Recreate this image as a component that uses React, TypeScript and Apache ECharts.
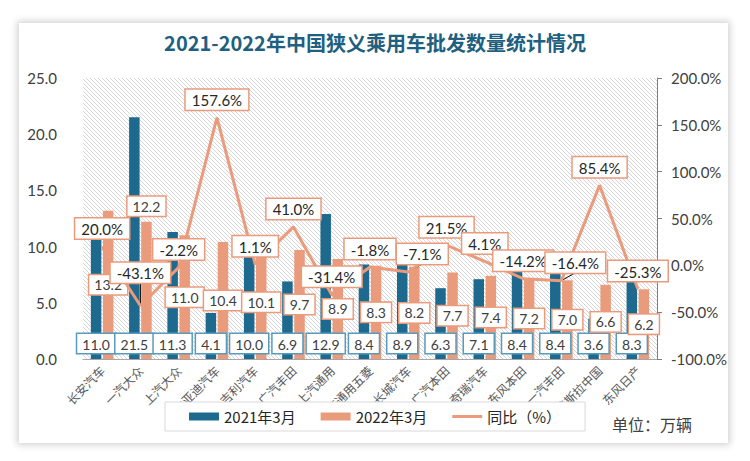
import React, { useEffect, useRef } from "react";
import * as echarts from "echarts";

const categories = ["长安汽车", "一汽大众", "上汽大众", "比亚迪汽车", "吉利汽车", "广汽丰田", "上汽通用", "上汽通用五菱", "长城汽车", "广汽本田", "奇瑞汽车", "东风本田", "一汽丰田", "特斯拉中国", "东风日产"];
const sales2021 = [11.0, 21.5, 11.3, 4.1, 10.0, 6.9, 12.9, 8.4, 8.9, 6.3, 7.1, 8.4, 8.4, 3.6, 8.3];
const sales2022 = [13.2, 12.2, 11.0, 10.4, 10.1, 9.7, 8.9, 8.3, 8.2, 7.7, 7.4, 7.2, 7.0, 6.6, 6.2];
const yoy = [20.0, -43.1, -2.2, 157.6, 1.1, 41.0, -31.4, -1.8, -7.1, 21.5, 4.1, -14.2, -16.4, 85.4, -25.3];
const seriesNames = ["2021年3月", "2022年3月", "同比（%）"];
const leftTicks = { min: 0, max: 25, interval: 5 };
const rightTicks = { min: -100, max: 200, interval: 50 };

const BLUE = "#1d6a8e";
const SALMON = "#ea9b7c";
const TXT = "#404040";
const NUM_FONT = "Lato";
const CJK_FONT = "Noto Sans CJK SC";
const LABEL_DIST = 8;

// label shifts for the ratio labels that were moved in the original (with leader lines)
const yoyShift: Record<number, [number, number]> = { 1: [0, -15], 8: [14, 0], 12: [14, 0] };
const leaderIdx = Object.keys(yoyShift).map(Number);
const top2022 = new Set([1]);

export default function App() {
  const ref = useRef<HTMLDivElement>(null);
  useEffect(() => {
    document.body.style.margin = "0";
    const chart = echarts.init(ref.current!, null, { renderer: "svg" });
    const c = document.createElement("canvas");
    c.width = 4;
    c.height = 4;
    const ctx = c.getContext("2d")!;
    ctx.fillStyle = "#ffffff";
    ctx.fillRect(0, 0, 4, 4);
    ctx.fillStyle = "#d6d6d6";
    for (let i = 0; i < 4; i++) ctx.fillRect(i, i, 1, 1);

    const option: any = {
      animation: false,
      title: {
        text: "2021-2022年中国狭义乘用车批发数量统计情况",
        left: "center",
        top: 27,
        textStyle: { fontSize: 20, color: "#1f5f80", fontFamily: CJK_FONT, fontWeight: "bold" },
      },
      legend: {
        left: 165,
        top: 402,
        padding: [7, 24, 7, 24],
        itemGap: 25,
        itemWidth: 30,
        itemHeight: 8,
        backgroundColor: "#ffffff",
        borderColor: "#d9d9d9",
        borderWidth: 1,
        textStyle: { fontSize: 15, color: "#262626", fontFamily: CJK_FONT },
        data: [
          { name: seriesNames[0], icon: "rect" },
          { name: seriesNames[1], icon: "rect" },
          { name: seriesNames[2], icon: "path://M0,0 L30,0 L30,3 L0,3 Z", itemStyle: { color: SALMON, opacity: 1 } },
        ],
      },
      grid: {
        left: 83,
        right: 93,
        top: 78,
        bottom: 102,
        show: true,
        borderWidth: 0,
        backgroundColor: { image: c, repeat: "repeat", imageWidth: 4, imageHeight: 4 },
      },
      xAxis: {
        type: "category",
        data: categories,
        axisTick: { show: false },
        axisLine: { lineStyle: { color: "#a6a6a6" } },
        axisLabel: { rotate: 45, fontSize: 12, color: "#595959", fontFamily: CJK_FONT, margin: 9, interval: 0 },
      },
      yAxis: [
        {
          type: "value",
          ...leftTicks,
          splitLine: { show: false },
          axisLine: { show: false },
          axisTick: { show: false },
          axisLabel: { formatter: (v: number) => v.toFixed(1), fontSize: 15, color: TXT, fontFamily: NUM_FONT, margin: 26 },
        },
        {
          type: "value",
          ...rightTicks,
          position: "right",
          splitLine: { show: false },
          axisLine: { show: true, lineStyle: { color: "#808080" } },
          axisTick: { show: true, length: 5, lineStyle: { color: "#808080" } },
          axisLabel: { formatter: (v: number) => v.toFixed(1) + "%", fontSize: 15, color: TXT, fontFamily: NUM_FONT, margin: 14 },
        },
      ],
      series: [
        {
          name: seriesNames[0],
          type: "bar",
          data: sales2021,
          barWidth: 10.5,
          barGap: "15%",
          itemStyle: { color: BLUE },
          label: {
            show: true,
            position: "insideBottom",
            distance: 6,
            formatter: (p: any) => p.value.toFixed(1),
            fontSize: 14,
            color: TXT,
            fontFamily: NUM_FONT,
            backgroundColor: "#fff",
            borderColor: "#5a9bbb",
            borderWidth: 1.5,
            padding: [3, 5, 2, 5],
            overflow: "none",
          },
          z: 2,
        },
        {
          name: seriesNames[1],
          type: "bar",
          data: sales2022.map((v, i) => (top2022.has(i) ? { value: v, label: { position: "top", distance: 6 } } : v)),
          barWidth: 10.5,
          itemStyle: { color: SALMON },
          label: {
            show: true,
            position: "inside",
            formatter: (p: any) => p.value.toFixed(1),
            fontSize: 14,
            color: TXT,
            fontFamily: NUM_FONT,
            backgroundColor: "#fff",
            borderColor: SALMON,
            borderWidth: 1.5,
            padding: [3, 5, 2, 5],
            overflow: "none",
          },
          z: 2,
        },
        {
          name: "leader",
          type: "custom",
          yAxisIndex: 1,
          data: leaderIdx.map((i) => [i, yoy[i]]),
          renderItem: (params: any, api: any) => {
            const i = leaderIdx[params.dataIndex];
            const s = yoyShift[i];
            const p = api.coord([api.value(0), api.value(1)]);
            return {
              type: "line",
              shape: { x1: p[0], y1: p[1], x2: p[0] + s[0], y2: p[1] - LABEL_DIST + s[1] },
              style: { stroke: "#000", lineWidth: 1 },
            };
          },
          silent: true,
          z: 3,
        },
        {
          name: seriesNames[2],
          type: "line",
          yAxisIndex: 1,
          data: yoy,
          symbol: "circle",
          symbolSize: 0,
          showSymbol: true,
          lineStyle: { color: SALMON, width: 3 },
          itemStyle: { color: SALMON },
          label: {
            show: true,
            position: "top",
            distance: LABEL_DIST,
            formatter: (p: any) => p.value.toFixed(1) + "%",
            fontSize: 15,
            color: "#262626",
            fontFamily: NUM_FONT,
            backgroundColor: "#fff",
            borderColor: SALMON,
            borderWidth: 1.5,
            padding: [3, 6, 2, 6],
          },
          labelLayout: (p: any) => {
            const s = yoyShift[p.dataIndex];
            return s ? { dx: s[0], dy: s[1] } : {};
          },
          z: 4,
        },
      ],
      graphic: [
        {
          type: "text",
          left: 612,
          top: 416,
          style: { text: "单位：万辆", fontSize: 16, fill: TXT, fontFamily: CJK_FONT },
        },
      ],
    };
    chart.setOption(option);
    return () => chart.dispose();
  }, []);
  return (
    <div style={{ position: "relative", width: 750, height: 461, background: "#fff", overflow: "hidden" }}>
      <div
        style={{
          position: "absolute",
          left: 19,
          top: 23,
          width: 709,
          height: 420,
          background: "#fff",
          boxShadow: "0 0 7px 2px rgba(0,0,0,0.18)",
        }}
      />
      <div ref={ref} style={{ position: "absolute", left: 0, top: 0, width: 750, height: 461 }} />
    </div>
  );
}
